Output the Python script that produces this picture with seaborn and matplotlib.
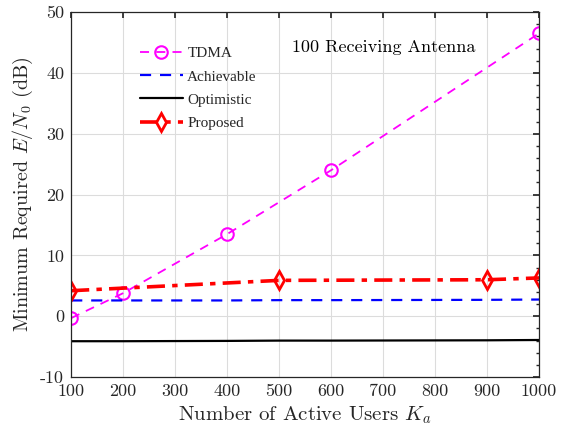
import matplotlib
matplotlib.use("Agg")
import matplotlib.pyplot as plt
import seaborn as sns
from matplotlib.ticker import MultipleLocator

sns.set_theme(style="whitegrid")
plt.rcParams['font.family'] = ['cmr10', 'DejaVu Serif']
plt.rcParams['mathtext.fontset'] = 'cm'
plt.rcParams['axes.unicode_minus'] = False

tdma_x = [100, 200, 400, 600, 1000]
tdma_y = [-0.3, 3.8, 13.5, 24.0, 46.5]
ach_x = [100, 200, 400, 500, 600, 900, 1000]
ach_y = [2.6, 2.6, 2.6, 2.65, 2.65, 2.7, 2.75]
opt_x = [100, 200, 400, 500, 600, 900, 1000]
opt_y = [-4.1, -4.1, -4.05, -4.0, -4.0, -3.95, -3.9]
prop_x = [100, 500, 900, 1000]
prop_y = [4.2, 5.9, 6.0, 6.3]

fig = plt.figure(figsize=(5.65, 4.3), dpi=100)
ax = fig.add_axes([0.126, 0.123, 0.828, 0.849])

sns.lineplot(x=tdma_x, y=tdma_y, ax=ax, color='#ff00ff', linestyle=(0, (5, 4)), lw=1.3,
             marker='o', markersize=9, markerfacecolor='none', markeredgecolor='#ff00ff',
             markeredgewidth=1.5, label='TDMA')
sns.lineplot(x=ach_x, y=ach_y, ax=ax, color='#0000ff', linestyle=(0, (5, 4)), lw=1.6,
             label='Achievable')
sns.lineplot(x=opt_x, y=opt_y, ax=ax, color='black', linestyle='-', lw=1.6,
             label='Optimistic')
sns.lineplot(x=prop_x, y=prop_y, ax=ax, color='#ff0000', linestyle=(0, (5, 2, 1.5, 2)), lw=2.6,
             marker='d', markersize=9, markerfacecolor='none', markeredgecolor='#ff0000',
             markeredgewidth=2, label='Proposed')

ax.set_xlim(100, 1000)
ax.set_ylim(-10, 50)
ax.set_xticks(range(100, 1001, 100))
ax.set_yticks(range(-10, 51, 10))
ax.yaxis.set_minor_locator(MultipleLocator(2))
ax.xaxis.set_minor_locator(MultipleLocator(100))
ax.tick_params(axis='both', which='both', direction='in', top=True, right=True,
               labelsize=13, colors='#262626', length=4)
ax.tick_params(axis='both', which='minor', length=2.5)
ax.tick_params(axis='both', which='major', pad=5)
ax.grid(True, which='major', color='#dcdcdc', lw=0.8)
ax.grid(False, which='minor')
for s in ax.spines.values():
    s.set_color('#262626')
    s.set_linewidth(0.9)

ax.set_xlabel('Number of Active Users $K_a$', fontsize=15, color='#262626')
ax.set_ylabel('Minimum Required $E/N_0$ (dB)', fontsize=14.5, color='#262626')

ax.text(0.472, 0.904, '100 Receiving Antenna', transform=ax.transAxes, fontsize=13,
        ha='left', va='center', color='black')

leg = ax.legend(loc='upper left', bbox_to_anchor=(0.147, 0.905), frameon=False,
                prop={'family': 'Liberation Serif', 'size': 11},
                handlelength=2.8, handletextpad=0.3, labelspacing=0.62,
                borderaxespad=0, borderpad=0)

fig.savefig('out.png', dpi=100)
